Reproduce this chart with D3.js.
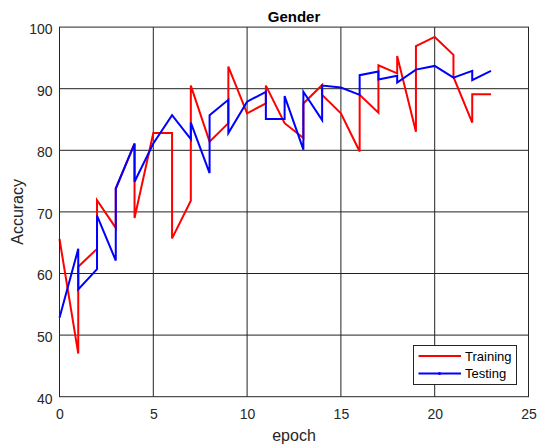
<!DOCTYPE html>
<html>
<head>
<meta charset="utf-8">
<script src="https://cdn.jsdelivr.net/npm/d3@7"></script>
<style>
  html, body { margin: 0; padding: 0; background: #fff; }
  svg { display: block; font-family: "Liberation Sans", Arial, Helvetica, sans-serif; }
</style>
</head>
<body>
<svg id="chart" width="537" height="448"></svg>
<script>
// Training accuracy per epoch (repeated epochs give the vertical jumps)
const trainEpoch = [0,1,1,2,2,3,3,4,4,5,6,6,7,7,8,9,9,10,11,11,12,13,13,14,14,15,16,16,17,17,18,18,19,19,20,21,21,22,22,23];
const trainAcc   = [65.6,47.0,61.1,64.0,71.9,67.4,73.8,81.1,69.0,82.8,82.8,65.7,71.8,90.5,81.4,84.4,93.6,86.0,87.6,90.5,84.4,82.0,87.6,90.6,89.0,86.0,79.8,89.0,86.1,93.8,92.5,95.3,83.0,96.9,98.4,95.5,91.9,84.5,89.1,89.1];

// Testing accuracy per epoch
const testEpoch = [0,1,1,2,2,3,3,4,4,5,6,7,7,8,8,9,9,10,11,11,12,12,13,13,14,14,15,16,16,17,17,18,18,19,20,21,22,22,23];
const testAcc   = [52.8,64.0,57.4,60.7,69.4,62.1,73.8,81.1,74.9,81.1,85.7,81.8,84.5,76.3,85.7,88.2,82.8,87.9,89.5,85.1,85.1,88.8,80.1,89.5,84.9,90.5,90.2,89.0,92.2,92.8,91.5,92.1,91.0,93.1,93.7,91.8,92.9,91.4,92.9];

const xTicks = [0, 5, 10, 15, 20, 25];
const yTicks = [40, 50, 60, 70, 80, 90, 100];
const seriesNames = ["Training", "Testing"];
const seriesColors = ["#ff0000", "#0000ff"];

const svg = d3.select("#chart");
const plotLeft = 59.5, plotRight = 528.5, plotTop = 27.1, plotBottom = 396.7;

const x = d3.scaleLinear().domain([0, 25]).range([plotLeft, plotRight]);
const y = d3.scaleLinear().domain([40, 100]).range([plotBottom, plotTop]);

const axisColor = "#262626";

// grid lines
const grid = svg.append("g");
grid.selectAll("line.gx").data(xTicks.slice(1, -1)).join("line")
  .attr("x1", d => x(d)).attr("x2", d => x(d))
  .attr("y1", plotTop).attr("y2", plotBottom)
  .attr("stroke", "#222").attr("stroke-width", 1);
grid.selectAll("line.gy").data(yTicks.slice(1, -1)).join("line")
  .attr("x1", plotLeft).attr("x2", plotRight)
  .attr("y1", d => y(d)).attr("y2", d => y(d))
  .attr("stroke", "#222").attr("stroke-width", 1);

// axes (labels only; the grid carries the tick positions)
const xAxis = d3.axisBottom(x).tickValues(xTicks).tickSize(0).tickPadding(12);
const yAxis = d3.axisLeft(y).tickValues(yTicks).tickSize(0).tickPadding(7);

const gx = svg.append("g").attr("transform", `translate(0,${plotBottom})`).call(xAxis);
const gy = svg.append("g").attr("transform", `translate(${plotLeft},0)`).call(yAxis);
[gx, gy].forEach(g => {
  g.select(".domain").remove();
  g.selectAll("text").attr("fill", axisColor).style("font-size", "14px")
    .style("font-family", "'Liberation Sans', Arial, sans-serif");
});
gy.selectAll("text").attr("dy", "0.45em");

// series
const line = d3.line().x(d => x(d[0])).y(d => y(d[1]));
const series = [
  d3.zip(trainEpoch, trainAcc),
  d3.zip(testEpoch, testAcc)
];
series.forEach((pts, i) => {
  svg.append("path").datum(pts)
    .attr("d", line)
    .attr("fill", "none")
    .attr("stroke", seriesColors[i])
    .attr("stroke-width", 2)
    .attr("stroke-linejoin", "miter");
});

// box
svg.append("rect")
  .attr("x", plotLeft).attr("y", plotTop)
  .attr("width", plotRight - plotLeft).attr("height", plotBottom - plotTop)
  .attr("fill", "none").attr("stroke", axisColor).attr("stroke-width", 1);

// title and axis labels
svg.append("text").attr("x", (plotLeft + plotRight) / 2).attr("y", 22)
  .attr("text-anchor", "middle").attr("fill", "#000")
  .style("font-size", "15px").style("font-weight", "bold")
  .text("Gender");
svg.append("text").attr("x", (plotLeft + plotRight) / 2).attr("y", 441)
  .attr("text-anchor", "middle").attr("fill", axisColor)
  .style("font-size", "16px")
  .text("epoch");
svg.append("text")
  .attr("transform", `translate(23,${(plotTop + plotBottom) / 2}) rotate(-90)`)
  .attr("text-anchor", "middle").attr("fill", axisColor)
  .style("font-size", "16px")
  .text("Accuracy");

// legend
const lg = svg.append("g").attr("transform", "translate(413.5,345.5)");
lg.append("rect").attr("width", 103).attr("height", 39)
  .attr("fill", "#fff").attr("stroke", axisColor).attr("stroke-width", 1);
seriesNames.forEach((name, i) => {
  const ly = 10.5 + i * 17.5;
  lg.append("line").attr("x1", 5).attr("x2", 47.5)
    .attr("y1", ly).attr("y2", ly)
    .attr("stroke", seriesColors[i]).attr("stroke-width", 2);
  if (i === 1) {
    lg.append("circle").attr("cx", 26).attr("cy", ly).attr("r", 1.5)
      .attr("fill", seriesColors[i]);
  }
  lg.append("text").attr("x", 51.5).attr("y", ly + 4.5)
    .attr("fill", "#000").style("font-size", "13px")
    .text(name);
});
</script>
</body>
</html>
